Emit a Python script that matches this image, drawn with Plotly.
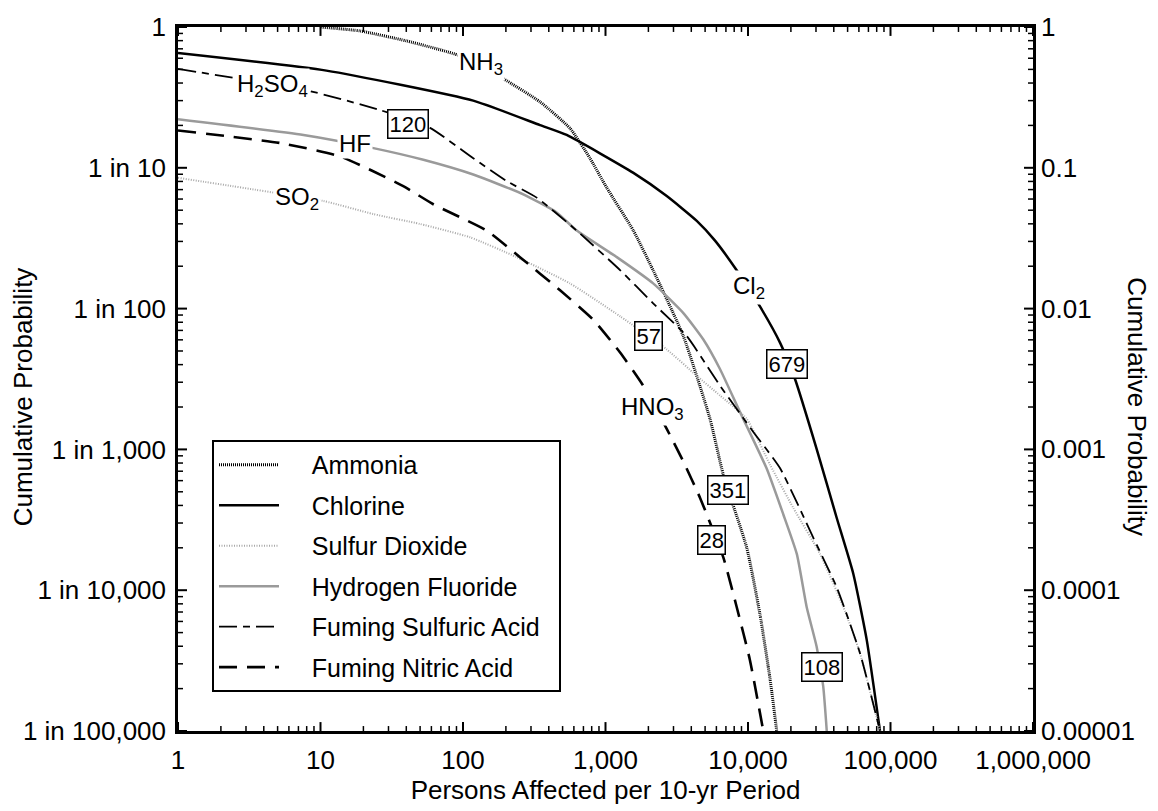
import numpy as np
import plotly.graph_objects as go

# Cumulative probability of persons affected per 10-yr period, by chemical
ammonia_x = [10, 19, 40, 95, 192, 347, 563, 778, 1020, 1570, 2160, 3520, 5410, 6710, 9790, 12100, 14300, 15900]
ammonia_y = [1.0, 0.937, 0.797, 0.625, 0.429, 0.294, 0.191, 0.117, 0.0722, 0.0358, 0.0187, 0.00637, 0.00165,
             0.00066, 0.000201, 6.84e-5, 2.32e-5, 1.0e-5]

chlorine_x = [1, 11, 118, 347, 534, 1570, 2690, 4370, 5870, 8330, 12100, 16800, 21400, 30300, 41900, 54800,
              68100, 84400]
chlorine_y = [0.653, 0.49, 0.30, 0.201, 0.171, 0.092, 0.063, 0.042, 0.0304, 0.0187, 0.0104, 0.00571, 0.00315,
              0.00101, 0.000327, 0.000131, 4.44e-5, 1.0e-5]

so2_x = [1, 10.5, 23.5, 50, 112, 238, 563, 1270, 2690, 4370, 6370, 9790, 14300, 20800, 32000, 46700, 61100, 84400]
so2_y = [0.0849, 0.0581, 0.0469, 0.0399, 0.0321, 0.0232, 0.0151, 0.0088, 0.00513, 0.00333, 0.00241, 0.00165,
         0.000776, 0.000384, 0.000181, 7.6e-5, 3.57e-5, 1.0e-5]

hf_x = [1, 7.6, 23.5, 52.7, 118, 265, 454, 628, 1200, 2160, 3520, 4860, 6370, 8790, 13500, 17700, 22000, 25800,
        30300, 33700, 35700]
hf_y = [0.221, 0.171, 0.138, 0.114, 0.0896, 0.0648, 0.0482, 0.0358, 0.0232, 0.0151, 0.00929, 0.00603, 0.00371,
        0.00184, 0.000734, 0.000345, 0.000181, 7.6e-5, 3.98e-5, 2.08e-5, 1.0e-5]

fsa_x = [1, 8, 26.2, 58.7, 118, 203, 329, 628, 1270, 2160, 3720, 6370, 10900, 16800, 28700, 41900, 61100, 84400]
fsa_y = [0.504, 0.355, 0.257, 0.192, 0.117, 0.0804, 0.0614, 0.0358, 0.0187, 0.0109, 0.00637, 0.00283, 0.00133,
         0.000734, 0.000236, 0.000105, 3.57e-5, 1.0e-5]

fna_x = [1, 5.2, 13.7, 38.1, 61.9, 147, 251, 480, 821, 1270, 1840, 2690, 3520, 4610, 6710, 8330, 10300, 12800]
fna_y = [0.184, 0.150, 0.1205, 0.0741, 0.0551, 0.0358, 0.0232, 0.0135, 0.00833, 0.00486, 0.00283, 0.0014,
         0.000818, 0.000452, 0.000171, 7.6e-5, 3.21e-5, 1.0e-5]

series_names = ["Ammonia", "Chlorine", "Sulfur Dioxide", "Hydrogen Fluoride",
                "Fuming Sulfuric Acid", "Fuming Nitric Acid"]

# Axis ticks
x_tickvals = [1, 10, 100, 1000, 10000, 100000, 1000000]
x_ticktext = ["1", "10", "100", "1,000", "10,000", "100,000", "1,000,000"]
y_tickvals = [1, 0.1, 0.01, 0.001, 0.0001, 0.00001]
y_ticktext_left = ["1", "1 in 10", "1 in 100", "1 in 1,000", "1 in 10,000", "1 in 100,000"]
y_ticktext_right = ["1", "0.1", "0.01", "0.001", "0.0001", "0.00001"]

# Curve labels (text, x, y) and boxed values (text, x, y)
curve_labels = [
    ("NH<sub>3</sub>", 134, 0.55),
    ("H<sub>2</sub>SO<sub>4</sub>", 4.57, 0.385),
    ("HF", 17.5, 0.150),
    ("SO<sub>2</sub>", 6.84, 0.0607),
    ("Cl<sub>2</sub>", 10160, 0.01416),
    ("HNO<sub>3</sub>", 2153, 0.00196),
]
box_labels = [
    ("120", 41.1, 0.2046),
    ("57", 2018, 0.0064),
    ("679", 18920, 0.00403),
    ("351", 7244, 0.000512),
    ("28", 5585, 0.000226),
    ("108", 33040, 2.86e-5),
]

FONT = "Liberation Sans, Arial, sans-serif"
GRAY = "#9a9a9a"
AX_SIZE = 26

styles = {
    "Ammonia": dict(color="black", width=3, dash="1px,1px"),
    "Chlorine": dict(color="black", width=2.5, dash="solid"),
    "Sulfur Dioxide": dict(color="#a8a8a8", width=2, dash="1px,1.5px"),
    "Hydrogen Fluoride": dict(color=GRAY, width=2.5, dash="solid"),
    "Fuming Sulfuric Acid": dict(color="black", width=1.8, dash="18px,6px,7px,6px"),
    "Fuming Nitric Acid": dict(color="black", width=2.6, dash="18px,10px"),
}
data = [
    (ammonia_x, ammonia_y), (chlorine_x, chlorine_y), (so2_x, so2_y),
    (hf_x, hf_y), (fsa_x, fsa_y), (fna_x, fna_y),
]

X_RANGE = [0, 6]     # log10 of 1 .. 1,000,000
Y_RANGE = [-5, 0]    # log10 of 0.00001 .. 1
PLOT_W, PLOT_H = 855, 711

fig = go.Figure()
lead = "\u00a0" * 4
trail = "\u00a0" * 2
for name, (xs, ys) in zip(series_names, data):
    fig.add_trace(go.Scatter(
        x=xs, y=ys, mode="lines", name=lead + name + trail, legendgroup=name,
        line=dict(shape="spline", smoothing=0.5, **styles[name]),
    ))

# Inward tick marks on all four sides (major at decades, minor at 2..9),
# drawn as short line segments whose length is set in pixels.
x_minor = [k * 10 ** e for e in range(0, 6) for k in range(2, 10)]
y_minor = [k * 10.0 ** e for e in range(-5, 0) for k in range(2, 10)]
x_dec_per_px = (X_RANGE[1] - X_RANGE[0]) / PLOT_W
y_dec_per_px = (Y_RANGE[1] - Y_RANGE[0]) / PLOT_H
ymin, ymax = 10.0 ** Y_RANGE[0], 10.0 ** Y_RANGE[1]
xmin, xmax = 10.0 ** X_RANGE[0], 10.0 ** X_RANGE[1]
for (xv, yv, length, width) in [(x_tickvals, y_tickvals, 9, 2), (x_minor, y_minor, 5, 1.5)]:
    fy = 10 ** (length * y_dec_per_px)
    fx = 10 ** (length * x_dec_per_px)
    tx, ty = [], []
    for v in xv:
        tx += [v, v, None, v, v, None]
        ty += [ymin, ymin * fy, None, ymax, ymax / fy, None]
    for v in yv:
        tx += [xmin, xmin * fx, None, xmax, xmax / fx, None]
        ty += [v, v, None, v, v, None]
    fig.add_trace(go.Scatter(
        x=tx, y=ty, mode="lines", line=dict(color="black", width=width),
        showlegend=False, hoverinfo="skip", connectgaps=False,
    ))

tickfont = dict(family=FONT, size=AX_SIZE, color="black")
axis_style = dict(
    type="log", ticks="", tickfont=tickfont, ticklabelstandoff=4,
    showline=True, linecolor="black", linewidth=2.5, mirror=True,
    showgrid=False, zeroline=False,
)

fig.update_layout(
    width=1158, height=811,
    margin=dict(l=178, r=125, t=21, b=79),
    paper_bgcolor="white", plot_bgcolor="white",
    font=dict(family=FONT, size=AX_SIZE, color="black"),
    xaxis=dict(
        range=X_RANGE, tickmode="array", tickvals=x_tickvals, ticktext=x_ticktext,
        title=dict(text="Persons Affected per 10-yr Period", font=dict(size=AX_SIZE), standoff=6),
        **axis_style,
    ),
    yaxis=dict(
        range=Y_RANGE, tickmode="array", tickvals=y_tickvals, ticktext=y_ticktext_left,
        **axis_style,
    ),
    legend=dict(
        x=(212 - 178) / PLOT_W, y=(732 - 438) / PLOT_H, xanchor="left", yanchor="top",
        bgcolor="white", bordercolor="black", borderwidth=2,
        font=dict(family=FONT, size=25, color="black"),
        itemwidth=60, tracegroupgap=5,
    ),
    showlegend=True,
)

annotations = []
for text, x, y in curve_labels:
    annotations.append(dict(
        x=np.log10(x), y=np.log10(y), xref="x", yref="y", text=text, showarrow=False,
        xanchor="center", yanchor="middle",
        font=dict(family=FONT, size=24, color="black"), bgcolor="white", borderpad=1,
    ))
for text, x, y in box_labels:
    annotations.append(dict(
        x=np.log10(x), y=np.log10(y), xref="x", yref="y", text=text, showarrow=False,
        xanchor="center", yanchor="middle",
        font=dict(family=FONT, size=22, color="black"), bgcolor="white",
        bordercolor="black", borderwidth=1.5, borderpad=1,
    ))
# right-hand probability scale
for val, txt in zip(y_tickvals, y_ticktext_right):
    annotations.append(dict(
        x=1, y=np.log10(val), xref="paper", yref="y", text=txt, showarrow=False,
        xanchor="left", yanchor="middle", xshift=6,
        font=dict(family=FONT, size=AX_SIZE, color="black"),
    ))
# side titles, placed by pixel position and converted to paper coordinates
for px, py, angle in [(23, 395, -90), (1137, 404, 90)]:
    annotations.append(dict(
        x=(px - 178) / PLOT_W, y=(732 - py) / PLOT_H, xref="paper", yref="paper",
        xanchor="center", yanchor="middle",
        text="Cumulative Probability", showarrow=False, textangle=angle,
        font=dict(family=FONT, size=AX_SIZE, color="black"),
    ))
fig.update_layout(annotations=annotations)

fig.write_html("out.html")
